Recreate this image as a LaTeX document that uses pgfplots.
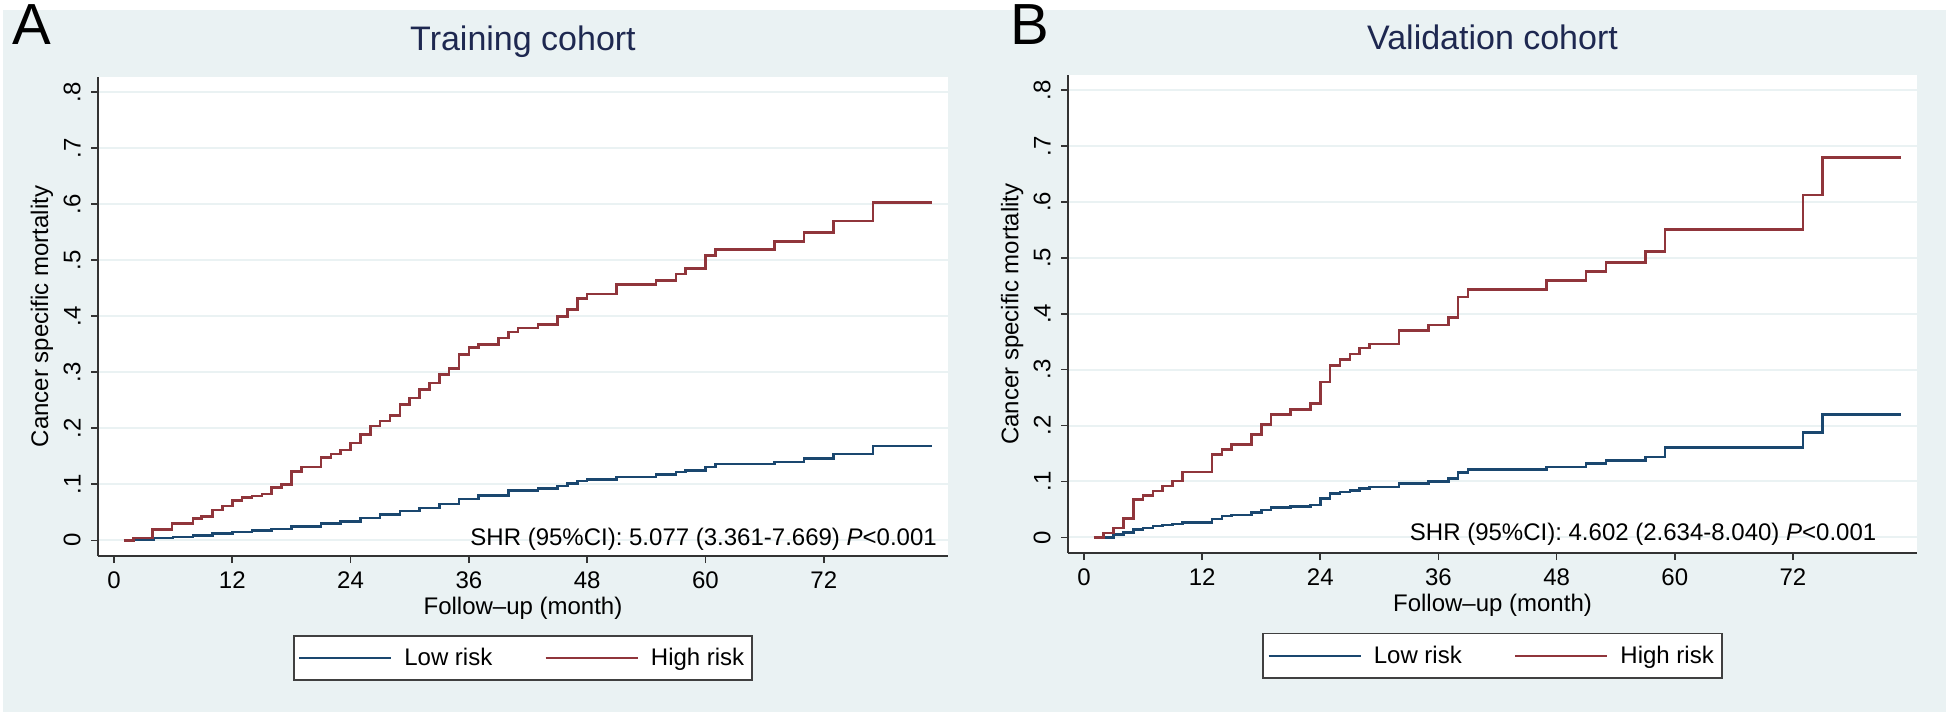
\documentclass[border=0pt]{standalone}
\usepackage{fontspec}
\setmainfont{Liberation Sans}
\usepackage{pgfplots}
\pgfplotsset{compat=1.18}
\definecolor{bgc}{RGB}{234,242,243}
\definecolor{gridc}{RGB}{234,242,243}
\definecolor{titlec}{RGB}{30,40,80}
\definecolor{lowc}{RGB}{26,71,111}
\definecolor{highc}{RGB}{144,53,59}
\pgfplotsset{
  km/.style={
    scale only axis, anchor=south west, clip=false,
    xmin=-1.62, xmax=84.6, ymin=-0.028, ymax=0.827,
    axis x line*=bottom, axis y line*=left,
    axis line style={-, draw=black!80, line width=0.9pt},
    axis background/.style={fill=white},
    xtick={0,12,24,36,48,60,72}, xticklabels={0,12,24,36,48,60,72},
    ytick={0,0.1,0.2,0.3,0.4,0.5,0.6,0.7,0.8},
    yticklabels={0,.1,.2,.3,.4,.5,.6,.7,.8},
    tick align=outside, major tick length=3.5pt,
    tick style={draw=black!80, line width=0.8pt},
    ymajorgrids, grid style={draw=gridc, line width=1pt},
    tick label style={font=\fontsize{12}{14}\selectfont, inner sep=0pt},
    xticklabel shift=4pt,
    yticklabel style={rotate=90, anchor=south},
    yticklabel shift=5pt,
    title style={at={(axis description cs:0.5,1)}, anchor=base, yshift=7pt,
      font=\fontsize{17}{20}\selectfont, text=titlec, inner sep=0pt},
    xlabel={Follow–up (month)},
    xlabel style={at={(axis description cs:0.5,-0.0856)}, anchor=north, inner sep=0pt,
      font=\fontsize{12}{14}\selectfont},
    ylabel={Cancer specific mortality},
    ylabel style={at={(axis description cs:-0.0659,0.5)}, anchor=center, inner sep=0pt,
      font=\fontsize{12}{14}\selectfont},
    legend columns=2,
    legend style={anchor=north, draw=black!75, line width=0.8pt, fill=white,
      font=\fontsize{12}{14}\selectfont, inner xsep=2pt, inner ysep=4pt,
      /tikz/every odd column/.append style={column sep=4pt},
      /tikz/every even column/.append style={column sep=24pt}},
    legend image code/.code={\draw[#1] (0pt,0pt) -- (46pt,0pt);},
  },
  low/.style={const plot, draw=lowc, line width=1.3pt, mark=none},
  high/.style={const plot, draw=highc, line width=1.3pt, mark=none},
}
\begin{document}
\begin{tikzpicture}
\useasboundingbox (0,0) rectangle (973pt,358.5pt);
\fill[white] (0,0) rectangle (973pt,358.5pt);
\fill[bgc] (1.5pt,2.5pt) rectangle (973pt,353.5pt);
\node[anchor=base west, font=\fontsize{29}{30}\selectfont, inner sep=0pt] at (6pt,336pt) {A};
\node[anchor=base west, font=\fontsize{29}{30}\selectfont, inner sep=0pt] at (505pt,336pt) {B};

\begin{axis}[km, at={(49pt,80.5pt)}, width=425pt, height=239.5pt,
  title={Training cohort}, legend style={at={(0.5,-0.165)}}]
\addplot[low] coordinates {
(1,0) (2,0.001) (4,0.004) (6,0.006) (8,0.009) (10,0.012) (12,0.015) (14,0.017)
(16,0.020) (18,0.025) (21,0.030) (23,0.034) (25,0.040) (27,0.046) (29,0.052)
(31,0.058) (33,0.065) (35,0.074) (37,0.080) (40,0.089) (43,0.092) (45,0.097)
(46,0.101) (47,0.106) (48,0.109) (51,0.113) (55,0.117) (57,0.122) (58,0.125)
(60,0.131) (61,0.136) (67,0.140) (70,0.146) (73,0.154) (77,0.168) (83,0.168)};
\addlegendentry{Low risk}
\addplot[high] coordinates {
(1,0) (2,0.004) (3.9,0.019) (5.9,0.030) (8,0.039) (8.9,0.043) (10,0.054) (11,0.061)
(12,0.071) (13,0.076) (14,0.079) (15,0.083) (16,0.094) (17,0.100) (18,0.123)
(19,0.131) (21,0.148) (22,0.154) (23,0.161) (24,0.174) (25,0.189) (26,0.204)
(27,0.213) (28,0.223) (29,0.242) (30,0.254) (31,0.269) (32,0.281) (33,0.296)
(34,0.307) (35,0.332) (36,0.344) (37,0.349) (39,0.361) (40,0.372) (41,0.379)
(43,0.385) (45,0.399) (46,0.412) (47,0.432) (48,0.440) (51,0.457) (55,0.464)
(57,0.475) (58,0.485) (60,0.508) (61,0.519) (67,0.533) (70,0.549) (73,0.570)
(77,0.603) (83,0.603)};
\addlegendentry{High risk}
\node[anchor=base east, font=\fontsize{12}{14}\selectfont, inner sep=0pt]
  at (axis cs:83.5,-0.009) {SHR (95\%CI): 5.077 (3.361-7.669) \textit{P}<0.001};
\end{axis}

\begin{axis}[km, at={(534pt,82pt)}, width=424.5pt, height=239pt,
  title={Validation cohort}, legend style={at={(0.5,-0.167)}}]
\addplot[low] coordinates {
(1,0) (3,0.005) (4,0.009) (5,0.014) (6,0.017) (7,0.020) (8,0.022) (9,0.024)
(10,0.027) (13,0.033) (14,0.038) (15,0.040) (17,0.044) (18,0.049) (19,0.053)
(21,0.055) (23,0.058) (24,0.069) (25,0.078) (26,0.081) (27,0.084) (28,0.087)
(29,0.090) (32,0.096) (35,0.100) (37,0.105) (38,0.116) (39,0.121) (47,0.126)
(51,0.132) (53,0.1375) (57,0.144) (59,0.161) (73,0.188) (75,0.220) (83,0.220)};
\addlegendentry{Low risk}
\addplot[high] coordinates {
(1,0) (2,0.008) (3,0.017) (4,0.034) (5,0.068) (6,0.075) (7,0.083) (8,0.092)
(9,0.101) (10,0.117) (13,0.148) (14,0.157) (15,0.166) (17,0.184) (18,0.202)
(19,0.220) (21,0.229) (23,0.239) (24,0.278) (25,0.307) (26,0.318) (27,0.328)
(28,0.339) (29,0.346) (32,0.370) (35,0.380) (37,0.393) (38,0.430) (39,0.443)
(47,0.459) (51,0.476) (53,0.492) (57,0.511) (59,0.551) (73,0.6125) (75,0.679)
(83,0.679)};
\addlegendentry{High risk}
\node[anchor=base east, font=\fontsize{12}{14}\selectfont, inner sep=0pt]
  at (axis cs:80.5,-0.00625) {SHR (95\%CI): 4.602 (2.634-8.040) \textit{P}<0.001};
\end{axis}
\end{tikzpicture}
\end{document}
